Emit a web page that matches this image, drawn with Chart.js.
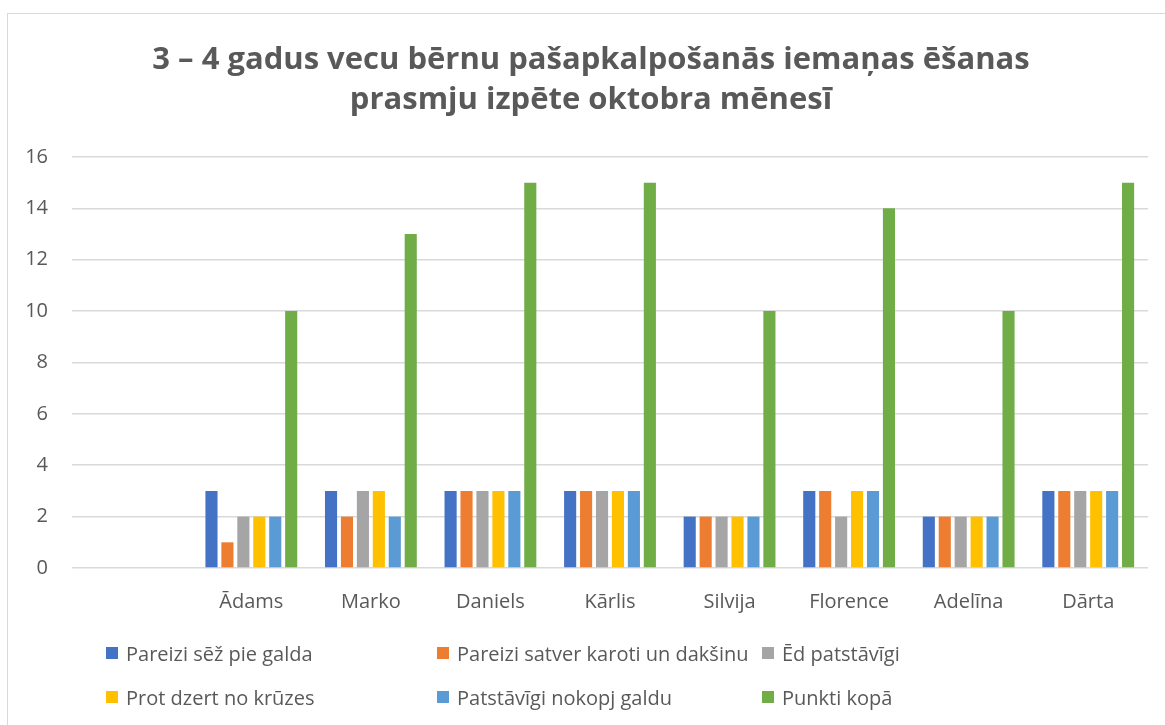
<!DOCTYPE html>
<html>
<head>
<meta charset="utf-8">
<script src="https://cdn.jsdelivr.net/npm/chart.js@4"></script>
<style>
  html, body { margin: 0; padding: 0; background: #fff; overflow: hidden; }
  #wrap { position: relative; width: 1165px; height: 725px; }
  #frame { position: absolute; left: 7px; top: 13px; width: 1300px; height: 900px; border: 1px solid #d9d9d9; box-sizing: border-box; }
  canvas { position: absolute; left: 0; top: 0; }
  .leg { position: absolute; display: flex; align-items: center; height: 24px; font-family: "Open Sans", sans-serif; font-size: 20px; color: #595959; white-space: nowrap; }
  .leg i { display: inline-block; width: 12px; height: 12px; margin-right: 8px; }
</style>
</head>
<body>
<div id="wrap">
  <div id="frame"></div>
  <canvas id="myChart" width="1165" height="725"></canvas>
  <div id="legend"></div>
</div>
<script>
const names = ["", "Ādams", "Marko", "Daniels", "Kārlis", "Silvija", "Florence", "Adelīna", "Dārta"];
const seriesNames = [
  "Pareizi sēž pie galda",
  "Pareizi satver karoti un dakšinu",
  "Ēd patstāvīgi",
  "Prot dzert no krūzes",
  "Patstāvīgi nokopj galdu",
  "Punkti kopā",
];
const sitsRight = [null, 3, 3, 3, 3, 2, 3, 2, 3];
const holdsSpoon = [null, 1, 2, 3, 3, 2, 3, 2, 3];
const eatsAlone = [null, 2, 3, 3, 3, 2, 2, 2, 3];
const drinksCup = [null, 2, 3, 3, 3, 2, 3, 2, 3];
const clearsTable = [null, 2, 2, 3, 3, 2, 3, 2, 3];
const totalPoints = [null, 10, 13, 15, 15, 10, 14, 10, 15];
const colors = ["#4472c4", "#ed7d31", "#a5a5a5", "#ffc000", "#5b9bd5", "#70ad47"];

const allSeries = [sitsRight, holdsSpoon, eatsAlone, drinksCup, clearsTable, totalPoints];
const txt = "#595959";

// nudge the title a bit right, it sits centred on the whole frame in the original
const titleShift = {
  id: "titleShift",
  afterLayout(c) {
    if (c.titleBlock) c.titleBlock.left += 14;
  },
};

const chart = new Chart(document.getElementById("myChart"), {
  type: "bar",
  data: {
    labels: names,
    datasets: allSeries.map((d, i) => ({
      label: seriesNames[i],
      data: d,
      backgroundColor: colors[i],
      barPercentage: 0.76,
      categoryPercentage: 0.8,
    })),
  },
  options: {
    responsive: false,
    animation: false,
    layout: { padding: { left: 20, right: 17, top: 0, bottom: 112 } },
    plugins: {
      legend: { display: false },
      tooltip: { enabled: false },
      title: {
        display: true,
        text: ["3 – 4 gadus vecu bērnu pašapkalpošanās iemaņas ēšanas", "prasmju izpēte oktobra mēnesī"],
        color: txt,
        font: { family: "Open Sans", size: 31, weight: "bold", lineHeight: 1.29 },
        padding: { top: 40, bottom: 37 },
      },
    },
    scales: {
      x: {
        grid: { display: false },
        border: { display: false },
        ticks: { color: txt, font: { family: "Open Sans", size: 20 }, padding: 14 },
        afterFit: (s) => { s.height = 45; },
      },
      y: {
        min: 0,
        max: 16,
        grid: { color: "#d9d9d9", lineWidth: 1.5, drawTicks: false },
        border: { display: false },
        ticks: { stepSize: 2, color: txt, font: { family: "Open Sans", size: 20 }, padding: 24 },
        afterFit: (s) => { s.width = 52; },
      },
    },
  },
  plugins: [titleShift],
});

// legend laid out in three columns like the original
const legend = document.getElementById("legend");
const colLeft = [106, 437, 762];
const rowTop = [641, 685];
chart.data.datasets.forEach((ds, i) => {
  const el = document.createElement("div");
  el.className = "leg";
  el.style.left = colLeft[i % 3] + "px";
  el.style.top = rowTop[Math.floor(i / 3)] + "px";
  el.innerHTML = '<i style="background:' + ds.backgroundColor + '"></i>' + ds.label;
  legend.appendChild(el);
});
</script>
</body>
</html>
